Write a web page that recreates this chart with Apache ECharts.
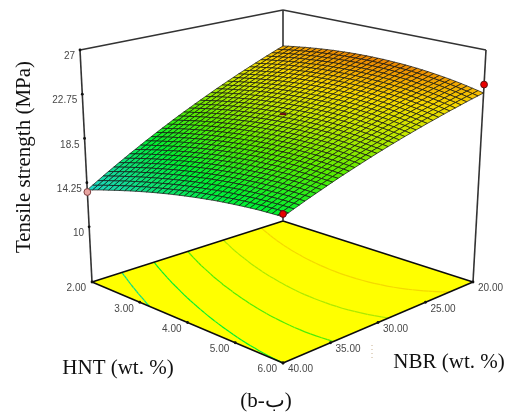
<!DOCTYPE html>
<html><head><meta charset="utf-8">
<style>html,body{margin:0;padding:0;background:#fff}#c{width:512px;height:416px}</style>
<script src="https://cdn.jsdelivr.net/npm/echarts@6/dist/echarts.min.js"></script>
</head><body><div id="c"></div>
<script>
const hntTicks = ['2.00','3.00','4.00','5.00','6.00'];
const nbrTicks = ['20.00','25.00','30.00','35.00','40.00'];
const zTicks = ['10','14.25','18.5','22.75','27'];
const yTitle = 'Tensile strength (MPa)';
const hntTitle = 'HNT (wt. %)';
const nbrTitle = 'NBR (wt. %)';
const caption = '(b-ب)';
// design points
const pointHnt = [2, 6, 6, 2];
const pointNbr = [40, 40, 20, 20];
const pointZ = [13.35, 17.24, 23.68, 16.0];
// contour levels drawn on the floor
const contourLevels = [15.25, 17, 18.75, 20.5, 22.25];
// tensile strength: rows NBR 40 -> 20, columns HNT 2 -> 6
const tensile = [
[13.55,13.73,13.91,14.08,14.24,14.40,14.56,14.71,14.86,15.00,15.14,15.27,15.40,15.52,15.64,15.75,15.86,15.96,16.06,16.15,16.24,16.32,16.40,16.48,16.55,16.61,16.67,16.72,16.77,16.82,16.86,16.90,16.93,16.95,16.97,16.99,17.00],
[13.86,14.03,14.21,14.38,14.54,14.70,14.85,15.00,15.14,15.28,15.42,15.54,15.67,15.79,15.90,16.01,16.12,16.22,16.31,16.40,16.49,16.57,16.64,16.71,16.78,16.84,16.90,16.95,17.00,17.04,17.07,17.10,17.13,17.15,17.17,17.18,17.19],
[14.16,14.34,14.51,14.67,14.83,14.99,15.14,15.29,15.43,15.56,15.69,15.82,15.94,16.06,16.17,16.28,16.38,16.47,16.56,16.65,16.73,16.81,16.88,16.95,17.01,17.07,17.12,17.17,17.21,17.25,17.28,17.31,17.33,17.35,17.37,17.37,17.38],
[14.47,14.64,14.81,14.97,15.13,15.28,15.43,15.57,15.71,15.84,15.97,16.09,16.21,16.32,16.43,16.53,16.63,16.73,16.81,16.90,16.98,17.05,17.12,17.18,17.24,17.30,17.34,17.39,17.43,17.46,17.49,17.51,17.53,17.55,17.56,17.56,17.56],
[14.77,14.94,15.10,15.26,15.42,15.57,15.71,15.85,15.99,16.12,16.24,16.36,16.48,16.59,16.69,16.79,16.89,16.98,17.07,17.15,17.22,17.29,17.36,17.42,17.47,17.52,17.57,17.61,17.64,17.67,17.70,17.72,17.74,17.75,17.75,17.75,17.75],
[15.06,15.23,15.39,15.55,15.70,15.85,15.99,16.13,16.26,16.39,16.51,16.63,16.74,16.85,16.95,17.05,17.14,17.23,17.31,17.39,17.46,17.53,17.59,17.65,17.70,17.75,17.79,17.83,17.86,17.88,17.91,17.92,17.93,17.94,17.94,17.94,17.93],
[15.36,15.52,15.69,15.84,15.99,16.13,16.27,16.41,16.54,16.66,16.78,16.90,17.01,17.11,17.21,17.31,17.39,17.48,17.56,17.63,17.70,17.76,17.82,17.88,17.92,17.97,18.01,18.04,18.07,18.09,18.11,18.12,18.13,18.14,18.13,18.13,18.11],
[15.65,15.81,15.97,16.13,16.27,16.41,16.55,16.68,16.81,16.93,17.05,17.16,17.27,17.37,17.46,17.56,17.64,17.72,17.80,17.87,17.94,18.00,18.05,18.10,18.15,18.19,18.22,18.25,18.28,18.30,18.31,18.32,18.33,18.33,18.32,18.31,18.29],
[15.95,16.10,16.26,16.41,16.55,16.69,16.83,16.96,17.08,17.20,17.31,17.42,17.53,17.63,17.72,17.81,17.89,17.97,18.04,18.11,18.17,18.23,18.28,18.33,18.37,18.41,18.44,18.46,18.49,18.50,18.51,18.52,18.52,18.52,18.51,18.49,18.47],
[16.23,16.39,16.54,16.69,16.83,16.97,17.10,17.23,17.35,17.47,17.58,17.68,17.79,17.88,17.97,18.06,18.14,18.21,18.28,18.34,18.40,18.46,18.51,18.55,18.59,18.62,18.65,18.67,18.69,18.71,18.71,18.72,18.71,18.70,18.69,18.67,18.65],
[16.52,16.68,16.83,16.97,17.11,17.24,17.37,17.50,17.62,17.73,17.84,17.94,18.04,18.13,18.22,18.30,18.38,18.45,18.52,18.58,18.63,18.69,18.73,18.77,18.81,18.84,18.86,18.88,18.90,18.91,18.91,18.91,18.90,18.89,18.87,18.85,18.83],
[16.81,16.96,17.11,17.25,17.39,17.52,17.65,17.77,17.88,17.99,18.10,18.20,18.29,18.38,18.47,18.55,18.62,18.69,18.75,18.81,18.86,18.91,18.96,18.99,19.03,19.05,19.07,19.09,19.10,19.11,19.11,19.10,19.09,19.08,19.06,19.03,19.00],
[17.09,17.24,17.38,17.52,17.66,17.79,17.91,18.03,18.14,18.25,18.35,18.45,18.55,18.63,18.71,18.79,18.86,18.93,18.99,19.04,19.09,19.14,19.18,19.21,19.24,19.26,19.28,19.29,19.30,19.30,19.30,19.29,19.28,19.26,19.24,19.21,19.17],
[17.37,17.52,17.66,17.80,17.93,18.06,18.18,18.29,18.40,18.51,18.61,18.70,18.80,18.88,18.96,19.03,19.10,19.16,19.22,19.27,19.32,19.36,19.39,19.43,19.45,19.47,19.49,19.50,19.50,19.50,19.50,19.48,19.47,19.44,19.41,19.38,19.34],
[17.65,17.79,17.93,18.07,18.20,18.32,18.44,18.55,18.66,18.77,18.86,18.96,19.04,19.12,19.20,19.27,19.33,19.39,19.45,19.50,19.54,19.58,19.61,19.64,19.66,19.68,19.69,19.70,19.70,19.69,19.69,19.67,19.65,19.62,19.59,19.55,19.51],
[17.92,18.07,18.20,18.34,18.46,18.59,18.70,18.81,18.92,19.02,19.11,19.20,19.29,19.36,19.44,19.51,19.57,19.63,19.68,19.72,19.76,19.80,19.83,19.85,19.87,19.89,19.89,19.90,19.89,19.89,19.88,19.85,19.83,19.80,19.77,19.73,19.68],
[18.20,18.34,18.47,18.60,18.73,18.85,18.96,19.07,19.17,19.27,19.36,19.45,19.53,19.60,19.68,19.74,19.80,19.85,19.90,19.95,19.98,20.02,20.04,20.06,20.08,20.09,20.10,20.10,20.09,20.08,20.06,20.04,20.01,19.98,19.94,19.90,19.85],
[18.47,18.61,18.74,18.87,18.99,19.11,19.22,19.32,19.42,19.52,19.61,19.69,19.77,19.85,19.91,19.97,20.03,20.08,20.13,20.17,20.20,20.23,20.26,20.27,20.29,20.29,20.30,20.29,20.28,20.27,20.25,20.22,20.19,20.16,20.11,20.07,20.02],
[18.74,18.87,19.00,19.13,19.25,19.36,19.48,19.58,19.67,19.77,19.85,19.94,20.01,20.08,20.15,20.21,20.26,20.31,20.35,20.39,20.42,20.45,20.47,20.48,20.49,20.49,20.49,20.49,20.47,20.46,20.43,20.40,20.37,20.33,20.28,20.23,20.18],
[19.00,19.14,19.27,19.39,19.51,19.62,19.73,19.83,19.92,20.01,20.10,20.17,20.25,20.32,20.38,20.43,20.48,20.53,20.57,20.60,20.63,20.66,20.67,20.69,20.69,20.69,20.69,20.68,20.66,20.64,20.62,20.58,20.54,20.50,20.45,20.40,20.34],
[19.27,19.40,19.53,19.65,19.76,19.87,19.98,20.08,20.17,20.26,20.34,20.41,20.49,20.55,20.61,20.66,20.71,20.75,20.79,20.82,20.85,20.87,20.88,20.89,20.90,20.89,20.88,20.87,20.85,20.83,20.80,20.76,20.72,20.67,20.62,20.56,20.50],
[19.53,19.66,19.78,19.90,20.02,20.12,20.23,20.32,20.41,20.50,20.58,20.65,20.72,20.78,20.84,20.89,20.93,20.97,21.01,21.04,21.06,21.08,21.09,21.09,21.10,21.09,21.08,21.06,21.04,21.01,20.98,20.94,20.89,20.84,20.79,20.73,20.66],
[19.79,19.92,20.04,20.16,20.27,20.37,20.47,20.56,20.65,20.74,20.81,20.88,20.95,21.01,21.06,21.11,21.15,21.19,21.22,21.25,21.27,21.28,21.29,21.29,21.29,21.28,21.27,21.25,21.22,21.19,21.16,21.11,21.07,21.01,20.95,20.89,20.82],
[20.05,20.17,20.29,20.41,20.52,20.62,20.72,20.81,20.89,20.97,21.05,21.12,21.18,21.24,21.29,21.33,21.37,21.41,21.44,21.46,21.47,21.49,21.49,21.49,21.49,21.47,21.46,21.43,21.41,21.37,21.33,21.29,21.23,21.18,21.11,21.05,20.97],
[20.31,20.43,20.54,20.66,20.76,20.86,20.96,21.05,21.13,21.21,21.28,21.35,21.41,21.46,21.51,21.55,21.59,21.62,21.65,21.67,21.68,21.69,21.69,21.69,21.68,21.67,21.65,21.62,21.59,21.55,21.51,21.46,21.40,21.34,21.28,21.20,21.13],
[20.56,20.68,20.79,20.90,21.01,21.11,21.20,21.28,21.36,21.44,21.51,21.57,21.63,21.68,21.73,21.77,21.80,21.83,21.86,21.87,21.88,21.89,21.89,21.88,21.87,21.85,21.83,21.80,21.77,21.73,21.68,21.63,21.57,21.51,21.44,21.36,21.28],
[20.81,20.93,21.04,21.15,21.25,21.35,21.44,21.52,21.60,21.67,21.74,21.80,21.86,21.90,21.95,21.98,22.02,22.04,22.07,22.08,22.09,22.09,22.09,22.08,22.07,22.04,22.02,21.98,21.95,21.90,21.86,21.80,21.74,21.67,21.60,21.52,21.44],
[21.06,21.17,21.28,21.39,21.49,21.58,21.67,21.75,21.83,21.90,21.96,22.02,22.08,22.12,22.16,22.20,22.23,22.25,22.27,22.28,22.29,22.29,22.28,22.27,22.25,22.23,22.20,22.16,22.12,22.08,22.03,21.96,21.90,21.83,21.75,21.67,21.58],
[21.31,21.42,21.53,21.63,21.73,21.82,21.91,21.99,22.06,22.13,22.19,22.24,22.30,22.34,22.38,22.41,22.44,22.46,22.48,22.48,22.48,22.48,22.47,22.46,22.44,22.41,22.38,22.34,22.30,22.25,22.19,22.13,22.06,21.99,21.91,21.82,21.73],
[21.55,21.66,21.77,21.87,21.96,22.05,22.14,22.22,22.29,22.35,22.41,22.47,22.52,22.56,22.59,22.62,22.64,22.66,22.68,22.68,22.68,22.68,22.66,22.65,22.63,22.59,22.56,22.52,22.47,22.42,22.36,22.29,22.22,22.14,22.06,21.97,21.88],
[21.79,21.90,22.01,22.10,22.20,22.29,22.37,22.44,22.51,22.57,22.63,22.68,22.73,22.77,22.80,22.83,22.85,22.87,22.88,22.88,22.88,22.87,22.85,22.83,22.81,22.77,22.73,22.69,22.64,22.58,22.53,22.45,22.38,22.30,22.21,22.12,22.03],
[22.03,22.14,22.24,22.34,22.43,22.52,22.60,22.67,22.73,22.79,22.85,22.90,22.95,22.98,23.01,23.03,23.05,23.07,23.08,23.07,23.07,23.06,23.04,23.02,22.99,22.95,22.91,22.86,22.81,22.75,22.69,22.62,22.54,22.45,22.36,22.27,22.17],
[22.27,22.38,22.48,22.57,22.66,22.74,22.82,22.89,22.95,23.01,23.07,23.11,23.16,23.19,23.22,23.24,23.25,23.27,23.27,23.27,23.26,23.25,23.23,23.20,23.17,23.13,23.08,23.03,22.98,22.92,22.85,22.77,22.69,22.61,22.51,22.42,22.31],
[22.51,22.61,22.71,22.80,22.89,22.97,23.05,23.11,23.17,23.23,23.28,23.33,23.37,23.40,23.42,23.44,23.45,23.46,23.47,23.46,23.45,23.43,23.41,23.38,23.35,23.31,23.26,23.20,23.14,23.08,23.01,22.93,22.85,22.76,22.66,22.56,22.46],
[22.74,22.84,22.94,23.03,23.11,23.19,23.27,23.33,23.39,23.44,23.49,23.54,23.57,23.60,23.62,23.64,23.65,23.66,23.66,23.65,23.64,23.62,23.59,23.56,23.53,23.48,23.43,23.37,23.31,23.24,23.17,23.09,23.00,22.91,22.81,22.70,22.60],
[22.97,23.07,23.16,23.25,23.33,23.41,23.49,23.55,23.60,23.66,23.70,23.74,23.78,23.80,23.82,23.84,23.85,23.85,23.85,23.84,23.82,23.80,23.77,23.74,23.70,23.65,23.60,23.54,23.47,23.40,23.33,23.24,23.15,23.05,22.95,22.84,22.73],
[23.20,23.30,23.39,23.47,23.56,23.63,23.70,23.76,23.82,23.87,23.91,23.95,23.98,24.01,24.02,24.04,24.04,24.04,24.04,24.02,24.00,23.98,23.95,23.91,23.87,23.82,23.76,23.70,23.63,23.56,23.48,23.39,23.30,23.20,23.09,22.98,22.87]
];
// colour scale
const colorAt = [13.5, 15, 17, 19, 21, 22.3, 23.3, 24];
const colorHex = ['#22d8d0', '#10dc90', '#00f030', '#58ec00', '#c8e800', '#f6d800', '#f2a600', '#ea8400'];

// view box of the plot: [left, back, right, front] corners, bottom and top
const floorCorners = [[92,282],[283,221],[473,282],[283,363]];
const roofCorners = [[80,50],[283,10],[486,50],[283,98]];
const zFloor = 4.7, zTop = 27;
const hntMin = 2, hntMax = 6, nbrMin = 20, nbrMax = 40;

function mix(a, b, t) { return [a[0] + (b[0]-a[0])*t, a[1] + (b[1]-a[1])*t]; }
function bil(c, s, u) {
  const near = mix(c[0], c[3], s), far = mix(c[1], c[2], s);
  return mix(near, far, u);
}
function project(hnt, nbr, z) {
  const s = (hnt - hntMin)/(hntMax - hntMin), u = (nbrMax - nbr)/(nbrMax - nbrMin);
  const h = (z - zFloor)/(zTop - zFloor);
  return mix(bil(floorCorners, s, u), bil(roofCorners, s, u), h);
}
function colorOf(z) {
  if (z <= colorAt[0]) return colorHex[0];
  for (let k = 1; k < colorAt.length; k++) {
    if (z <= colorAt[k]) return echarts.color.lerp((z-colorAt[k-1])/(colorAt[k]-colorAt[k-1]), [colorHex[k-1], colorHex[k]]);
  }
  return colorHex[colorHex.length-1];
}
const N = tensile.length - 1;
const hntAt = j => hntMin + (hntMax-hntMin)*j/N;
const nbrAt = i => nbrMax - (nbrMax-nbrMin)*i/N;

const cellData = [];
for (let i = N-1; i >= 0; i--) for (let j = 0; j < N; j++) cellData.push([j, i]);

// marching squares on the table
const contourData = [];
contourLevels.forEach((lv, li) => {
  for (let i = 0; i < N; i++) for (let j = 0; j < N; j++) {
    const q = [[j,i],[j+1,i],[j+1,i+1],[j,i+1]];
    const hits = [];
    for (let k = 0; k < 4; k++) {
      const a = q[k], b = q[(k+1)%4];
      const za = tensile[a[1]][a[0]], zb = tensile[b[1]][b[0]];
      if ((za < lv) !== (zb < lv)) {
        const t = (lv-za)/(zb-za);
        hits.push([a[0]+(b[0]-a[0])*t, a[1]+(b[1]-a[1])*t]);
      }
    }
    if (hits.length >= 2) contourData.push([hits[0][0],hits[0][1],hits[1][0],hits[1][1],li]);
  }
});

const hntVals = hntTicks.map(Number), nbrVals = nbrTicks.map(Number), zVals = zTicks.map(Number);
const frameInk = '#333333', floorInk = '#0c0c0c', labelInk = '#484848';
const labelFont = '10px "Liberation Sans", Arial, sans-serif';
const titleFont = '21px "Liberation Serif", "Times New Roman", serif';

function poly(api, pts, style) {
  return {type:'polygon', shape:{points: pts.map(p => api.coord(p))}, style};
}
function seg(api, a, b, stroke, w) {
  const p = api.coord(a), q = api.coord(b);
  return {type:'line', shape:{x1:p[0],y1:p[1],x2:q[0],y2:q[1]}, style:{stroke, lineWidth:w, fill:null}};
}
function custom(name, z, data, renderItem) {
  return {type:'custom', name, z, data, renderItem, coordinateSystem:'cartesian2d', silent:true, animation:false, clip:false, encode:{x:0,y:1}};
}
const roofZ = zTop, floorZ = zFloor;
const chart = echarts.init(document.getElementById('c'), null, {renderer:'canvas'});
chart.setOption({
  backgroundColor:'#fff', animation:false,
  grid:{left:0,right:0,top:0,bottom:0},
  xAxis:{type:'value',min:0,max:512,show:false},
  yAxis:{type:'value',min:0,max:416,inverse:true,show:false},
  tooltip:{show:false},
  series:[
    custom('floor',1,[[0,0]],(p,api)=>poly(api,[project(2,40,floorZ),project(2,20,floorZ),project(6,20,floorZ),project(6,40,floorZ)],{fill:'#ffff00'})),
    custom('contours',2,contourData,(p,api)=>{
      const lv = contourLevels[api.value(4)];
      return seg(api, project(hntAt(api.value(0)),nbrAt(api.value(1)),floorZ), project(hntAt(api.value(2)),nbrAt(api.value(3)),floorZ), colorOf(lv), 1.2);
    }),
    custom('frame',3,[[2,40,2,20],[2,20,6,20],[6,20,6,40],[6,40,2,40]],(p,api)=>seg(api,project(api.value(0),api.value(1),floorZ),project(api.value(2),api.value(3),floorZ),floorInk,1.5)),
    custom('walls',3,[[2,40,floorZ,2,40,roofZ],[2,20,floorZ,2,20,roofZ],[6,20,floorZ,6,20,roofZ],[2,40,roofZ,2,20,roofZ],[2,20,roofZ,6,20,roofZ]],(p,api)=>seg(api,project(api.value(0),api.value(1),api.value(2)),project(api.value(3),api.value(4),api.value(5)),frameInk,1.6)),
    custom('surface',5,cellData,(p,api)=>{
      const j = api.value(0), i = api.value(1);
      const zs = [tensile[i][j],tensile[i][j+1],tensile[i+1][j+1],tensile[i+1][j]];
      const m = (zs[0]+zs[1]+zs[2]+zs[3])/4;
      return poly(api,[project(hntAt(j),nbrAt(i),zs[0]),project(hntAt(j+1),nbrAt(i),zs[1]),project(hntAt(j+1),nbrAt(i+1),zs[2]),project(hntAt(j),nbrAt(i+1),zs[3])],{fill:colorOf(m),stroke:'#101010',lineWidth:0.7});
    }),
    custom('zTicks',6,zVals.map((v,k)=>[v,k]),(p,api)=>{
      const c = api.coord(project(2,40,api.value(0)));
      return {type:'group',children:[
        {type:'circle',shape:{cx:c[0],cy:c[1],r:1.4},style:{fill:'#111'}},
        {type:'text',style:{x:c[0]-5,y:c[1]+6.5,text:zTicks[api.value(1)],fill:labelInk,font:labelFont,align:'right',verticalAlign:'middle'}}
      ]};
    }),
    custom('hntTicks',6,hntVals.map((v,k)=>[v,k]),(p,api)=>{
      const c = api.coord(project(api.value(0),40,floorZ));
      return {type:'group',children:[
        {type:'circle',shape:{cx:c[0],cy:c[1],r:1.4},style:{fill:'#111'}},
        {type:'text',style:{x:c[0]-6,y:c[1]+6.5,text:hntTicks[api.value(1)],fill:labelInk,font:labelFont,align:'right',verticalAlign:'middle'}}
      ]};
    }),
    custom('nbrTicks',6,nbrVals.map((v,k)=>[v,k]),(p,api)=>{
      const c = api.coord(project(6,api.value(0),floorZ));
      return {type:'group',children:[
        {type:'circle',shape:{cx:c[0],cy:c[1],r:1.4},style:{fill:'#111'}},
        {type:'text',style:{x:c[0]+5,y:c[1]+6.5,text:nbrTicks[api.value(1)],fill:labelInk,font:labelFont,align:'left',verticalAlign:'middle'}}
      ]};
    }),
    custom('points',7,pointZ.map((v,k)=>[pointHnt[k],pointNbr[k],v,k]),(p,api)=>{
      const c = api.coord(project(api.value(0),api.value(1),api.value(2))), k = api.value(3);
      if (k === 3) return {type:'rect',shape:{x:c[0]-3,y:c[1]-1,width:6,height:2},style:{fill:'#701010'}};
      return {type:'circle',shape:{cx:c[0],cy:c[1],r:3.4},style:{fill:k===0?'#e8a4a0':'#e80000',stroke:k===0?'#804040':'#601010',lineWidth:1}};
    })
  ],
  graphic:[
    {type:'text',x:24,y:157,rotation:Math.PI/2,style:{text:yTitle,font:titleFont,fill:'#111',align:'center',verticalAlign:'middle'}},
    {type:'text',x:118,y:368,style:{text:hntTitle,font:titleFont,fill:'#111',align:'center',verticalAlign:'middle'}},
    {type:'text',x:449,y:362,style:{text:nbrTitle,font:titleFont,fill:'#111',align:'center',verticalAlign:'middle'}},
    {type:'text',x:266,y:401,style:{text:caption,font:titleFont,fill:'#111',align:'center',verticalAlign:'middle'}},
    {type:'line',shape:{x1:372,y1:345,x2:372,y2:360},style:{stroke:'#c8b090',lineWidth:1,lineDash:[1,3]}}
  ]
});
</script></body></html>
